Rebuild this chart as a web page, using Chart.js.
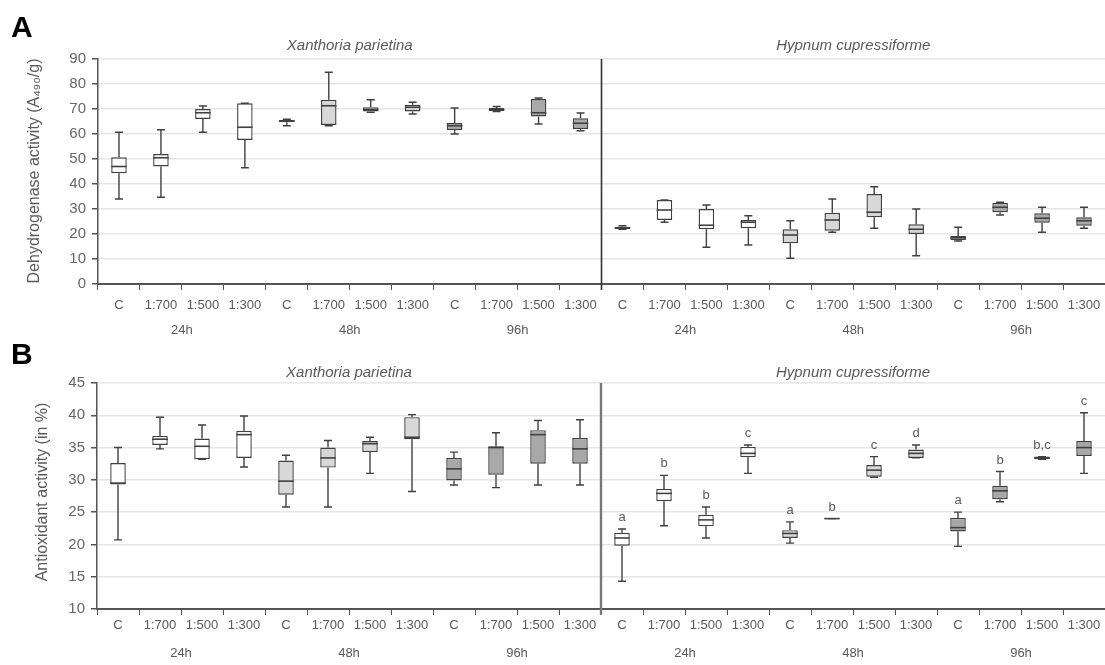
<!DOCTYPE html>
<html>
<head>
<meta charset="utf-8">
<script src="https://cdn.jsdelivr.net/npm/chart.js@4.4.1/dist/chart.umd.min.js"></script>
<style>
  html, body { margin: 0; padding: 0; background: #fff; }
  canvas { display: block; }
</style>
</head>
<body>
<canvas id="chartA" width="1105" height="342"></canvas>
<canvas id="chartB" width="1105" height="323"></canvas>
<script>
const doses = ['C', '1:700', '1:500', '1:300'];
const times = ['24h', '48h', '96h'];
const species = ['Xanthoria parietina', 'Hypnum cupressiforme'];

// A - dehydrogenase activity, 12 Xanthoria boxes then 12 Hypnum boxes
const dhMin = [34, 34.7, 60.7, 46.5, 63.3, 63.3, 68.7, 68, 60, 69, 64, 61.3,
               21.9, 24.7, 14.7, 15.6, 10.3, 20.7, 22.3, 11.3, 17.2, 27.6, 20.7, 22.3];
const dhQ1  = [44.3, 47, 66, 57.6, 64.7, 63.6, 69, 69, 61.6, 69.2, 67, 62,
               22, 25.6, 21.9, 22.3, 16.3, 21.3, 26.7, 20, 17.6, 28.7, 24.5, 23.3];
const dhMed = [47, 50.5, 68.5, 62.7, 65.3, 71.3, 69.7, 70.7, 63.3, 69.7, 68.5, 64.3,
               22.5, 29.6, 23.5, 24.7, 19.6, 25.6, 28.7, 21.9, 18.5, 30.7, 26.3, 25.3];
const dhQ3  = [50.7, 52, 70, 72.3, 65.6, 73.7, 70.7, 71.7, 64.4, 70.4, 74, 66.3,
               22.9, 33.6, 30, 25.6, 21.9, 28.5, 36, 23.9, 19.2, 32.5, 28.3, 26.7];
const dhMax = [60.7, 61.7, 71.2, 72.3, 65.9, 84.7, 73.7, 72.7, 70.4, 71, 74.4, 68.4,
               23.3, 33.6, 31.6, 27.3, 25.3, 34, 38.9, 30, 22.7, 32.7, 30.7, 30.7];

// B - antioxidant activity
const aoMin = [20.7, 34.8, 33.2, 32, 25.8, 25.8, 31, 28.2, 29.2, 28.8, 29.2, 29.2,
               14.3, 22.9, 21, 31, 20.2, 24, 30.4, 33.4, 19.7, 26.6, 33.2, 31];
const aoQ1  = [29.3, 35.4, 33.2, 33.4, 27.7, 31.9, 34.3, 36.3, 29.9, 30.8, 32.5, 32.5,
               19.8, 26.7, 22.8, 33.5, 21, 24, 30.5, 33.4, 22, 27, 33.2, 33.7];
const aoMed = [29.5, 36.3, 35.2, 37, 29.8, 33.4, 35.6, 36.6, 31.7, 35, 37, 34.8,
               21, 27.9, 23.8, 34.1, 21.7, 24, 31.5, 34.1, 22.6, 28.3, 33.4, 35];
const aoQ3  = [32.6, 36.8, 36.4, 37.6, 33, 35, 36, 39.7, 33.4, 35.2, 37.7, 36.5,
               21.8, 28.6, 24.6, 35.1, 22.2, 24, 32.3, 34.7, 24.1, 29.1, 33.6, 36];
const aoMax = [35, 39.7, 38.5, 39.9, 33.8, 36.1, 36.6, 40.1, 34.3, 37.3, 39.2, 39.3,
               22.4, 30.7, 25.8, 35.4, 23.5, 24, 33.6, 35.4, 25, 31.3, 33.6, 40.4];
const aoLetters = [null, null, null, null, null, null, null, null, null, null, null, null,
                   'a', 'b', 'b', 'c', 'a', 'b', 'c', 'd', 'a', 'b', 'b,c', 'c'];

const categories = species.flatMap(() => times.flatMap(() => doses));
const timeFills = ['#ffffff', '#d8d8d8', '#a8a8a8'];
const ink = '#404040';
const grey = '#595959';
const fam = '"Liberation Sans", Arial, sans-serif';

function boxPlugin(s) {
    return {
        id: 'boxes',
        afterDatasetsDraw(chart) {
            const { ctx, scales: { x, y } } = chart;
            const bars = chart.getDatasetMeta(0).data;
            ctx.save();
            ctx.strokeStyle = ink;
            ctx.lineWidth = 1.4;
            bars.forEach((bar, i) => {
                const cx = x.getPixelForValue(i);
                const half = bar.width / 2;
                const cap = 4;
                const pMin = y.getPixelForValue(s.min[i]);
                const pMax = y.getPixelForValue(s.max[i]);
                const pQ1 = y.getPixelForValue(s.q1[i]);
                const pQ3 = y.getPixelForValue(s.q3[i]);
                const pMed = y.getPixelForValue(s.med[i]);
                ctx.beginPath();
                ctx.moveTo(cx, pMax); ctx.lineTo(cx, pQ3);
                ctx.moveTo(cx, pQ1); ctx.lineTo(cx, pMin);
                ctx.moveTo(cx - cap, pMax); ctx.lineTo(cx + cap, pMax);
                ctx.moveTo(cx - cap, pMin); ctx.lineTo(cx + cap, pMin);
                ctx.stroke();
                ctx.beginPath();
                ctx.lineWidth = 1.6;
                ctx.moveTo(cx - half, pMed); ctx.lineTo(cx + half, pMed);
                ctx.stroke();
                ctx.lineWidth = 1.4;
                if (s.letters && s.letters[i]) {
                    ctx.fillStyle = grey;
                    ctx.font = '13px ' + fam;
                    ctx.textAlign = 'center';
                    ctx.textBaseline = 'bottom';
                    ctx.fillText(s.letters[i], cx, pMax - 5);
                }
            });
            ctx.restore();
        }
    };
}

function decorPlugin(d) {
    return {
        id: 'decor',
        afterDraw(chart) {
            const { ctx, chartArea, scales: { x } } = chart;
            ctx.save();
            // divider between species
            const xd = (x.getPixelForValue(11) + x.getPixelForValue(12)) / 2;
            ctx.strokeStyle = d.dividerColor;
            ctx.lineWidth = d.dividerWidth;
            ctx.beginPath();
            ctx.moveTo(xd, chartArea.top);
            ctx.lineTo(xd, chartArea.bottom + 6);
            ctx.stroke();

            // panel letter
            ctx.fillStyle = '#000';
            ctx.font = 'bold 30px ' + fam;
            ctx.textAlign = 'left';
            ctx.textBaseline = 'middle';
            ctx.fillText(d.letter, 11, d.letterY);

            // species titles
            ctx.fillStyle = grey;
            ctx.font = 'italic 15px ' + fam;
            ctx.textAlign = 'center';
            ctx.fillText(species[0], (chartArea.left + xd) / 2, d.titleY);
            ctx.fillText(species[1], (xd + 1105) / 2, d.titleY);

            // time group labels
            ctx.font = '13px ' + fam;
            for (let g = 0; g < 6; g++) {
                const gx = (x.getPixelForValue(g * 4) + x.getPixelForValue(g * 4 + 3)) / 2;
                ctx.fillText(times[g % 3], gx, d.groupY);
            }

            // y axis title
            ctx.translate(d.yTitleX, d.yTitleY);
            ctx.rotate(-Math.PI / 2);
            ctx.font = d.yTitleFont + 'px ' + fam;
            ctx.fillText(d.yTitle, 0, 0);
            ctx.restore();
        }
    };
}

function makeChart(id, s, d) {
    return new Chart(document.getElementById(id), {
        type: 'bar',
        data: {
            labels: categories,
            datasets: [{
                data: s.q1.map((v, i) => [v, s.q3[i]]),
                backgroundColor: categories.map((_, i) => timeFills[Math.floor(i / 4) % 3]),
                borderColor: ink,
                borderWidth: 1.4,
                borderSkipped: false,
                barPercentage: 0.37,
                categoryPercentage: 1
            }]
        },
        options: {
            responsive: false,
            animation: false,
            layout: { padding: { top: d.top, left: 0, right: d.right, bottom: 0 } },
            plugins: { legend: { display: false }, tooltip: { enabled: false } },
            scales: {
                x: {
                    afterFit: sc => { sc.height = d.xHeight; sc.paddingRight = 0; sc.paddingLeft = 0; },
                    ticks: { color: grey, font: { family: fam, size: 13 }, padding: d.tickPad, maxRotation: 0, autoSkip: false },
                    grid: { drawOnChartArea: false, drawTicks: true, tickLength: 6, tickColor: '#555', offset: true },
                    border: { color: '#555', width: 2 }
                },
                y: {
                    min: d.yMin, max: d.yMax,
                    afterFit: sc => { sc.width = d.yWidth; },
                    ticks: { stepSize: d.step, color: '#666', font: { family: fam, size: 15 }, padding: 6 },
                    grid: { color: '#e6e6e6', lineWidth: 1.5, tickColor: '#555', tickLength: 6 },
                    border: { color: '#555', width: 1.5 }
                }
            }
        },
        plugins: [boxPlugin(s), decorPlugin(d)]
    });
}

makeChart('chartA',
    { min: dhMin, q1: dhQ1, med: dhMed, q3: dhQ3, max: dhMax },
    { top: 59, right: -3, xHeight: 58, yWidth: 98, yMin: 0, yMax: 90, step: 10, tickPad: 8,
      letter: 'A', letterY: 29, titleY: 46, groupY: 330, yTitleX: 35, yTitleY: 171,
      yTitle: 'Dehydrogenase activity (A\u2084\u2089\u2080/g)', yTitleFont: 16,
      dividerColor: '#333', dividerWidth: 1.6 });

makeChart('chartB',
    { min: aoMin, q1: aoQ1, med: aoMed, q3: aoQ3, max: aoMax, letters: aoLetters },
    { top: 41, right: -2, xHeight: 56, yWidth: 97, yMin: 10, yMax: 45, step: 5, tickPad: 3,
      letter: 'B', letterY: 14, titleY: 31, groupY: 311, yTitleX: 43, yTitleY: 150,
      yTitle: 'Antioxidant activity (in %)', yTitleFont: 16,
      dividerColor: '#777', dividerWidth: 2.4 });
</script>
</body>
</html>
